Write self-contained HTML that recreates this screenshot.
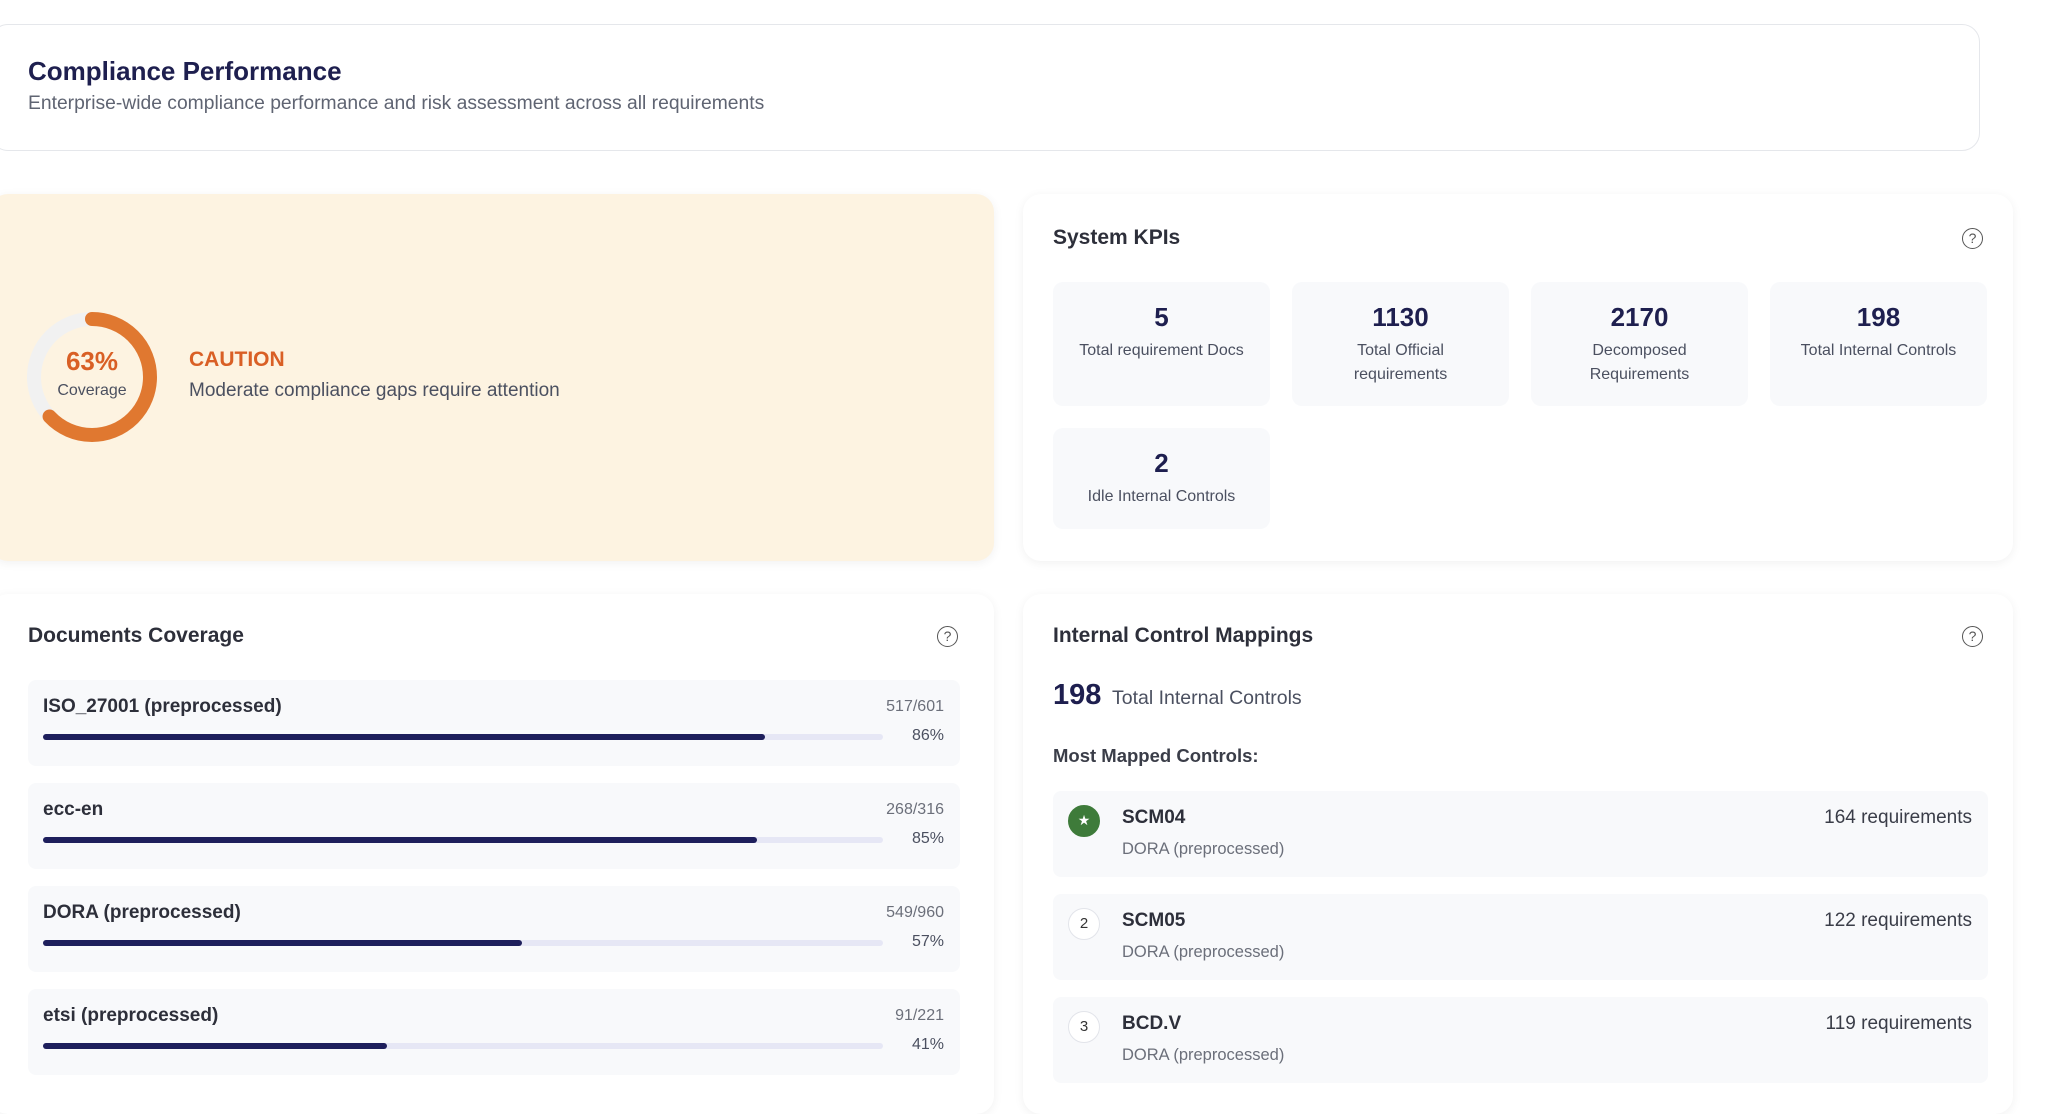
<!DOCTYPE html>
<html><head><meta charset="utf-8"><style>
*{box-sizing:border-box;margin:0;padding:0}
body{width:2048px;height:1091px;overflow:hidden;background:#fff;font-family:"Liberation Sans",sans-serif;position:relative}
.card{position:absolute;background:#fff;border-radius:18px;box-shadow:0 2px 10px rgba(0,0,0,0.06)}
.abs{position:absolute;white-space:nowrap}
.help{position:absolute;width:21px;height:21px;border:1.8px solid #555;border-radius:50%;font-size:14px;color:#555;text-align:center;line-height:18px}
.tile{position:absolute;width:217px;background:#f8f9fb;border-radius:10px;text-align:center}
.tile .n{font-size:26px;font-weight:bold;color:#1e1f4f;margin-top:20px}
.tile .l{font-size:16px;color:#4b5060;line-height:23.5px;margin-top:6px}
.doc{position:absolute;left:28px;width:932px;height:86px;background:#f8f9fb;border-radius:8px}
.doc .nm{position:absolute;left:15px;top:16px;font-size:19px;font-weight:bold;color:#2d2f3a}
.doc .ct{position:absolute;right:16px;top:18px;font-size:16px;color:#6b6f7a}
.doc .pc{position:absolute;right:16px;top:47px;font-size:16px;color:#4b5060}
.doc .tr{position:absolute;left:15px;top:54px;width:840px;height:6px;background:#e6e7f5;border-radius:3px}
.doc .fl{height:6px;background:#1e1f5c;border-radius:3px}
.ctl{position:absolute;left:1053px;width:935px;height:86px;background:#f8f9fb;border-radius:8px}
.ctl .c{position:absolute;left:15px;top:14px;width:32px;height:32px;border-radius:50%;border:1.5px solid #e2e4ea;background:#fff;text-align:center;line-height:29px;font-size:15px;color:#333}
.ctl .nm{position:absolute;left:69px;top:16px;font-size:19px;font-weight:bold;color:#2d2f3a}
.ctl .sb{position:absolute;left:69px;top:49px;font-size:16.5px;color:#6b6f7a}
.ctl .rq{position:absolute;right:16px;top:16px;font-size:19px;color:#3a3d48}
</style></head><body>

<div class="card" style="left:-10px;top:24px;width:1990px;height:127px;border:1px solid #e5e7eb;box-shadow:none"></div>
<div class="abs" style="left:28px;top:56px;font-size:26px;font-weight:bold;color:#1e1f4f">Compliance Performance</div>
<div class="abs" style="left:28px;top:93px;font-size:19.3px;color:#5f6472">Enterprise-wide compliance performance and risk assessment across all requirements</div>

<div class="card" style="left:-10px;top:194px;width:1004px;height:367px;background:#fdf3e1"></div>
<svg class="abs" style="left:26px;top:311px" width="132" height="132" viewBox="0 0 132 132">
<circle cx="66" cy="66" r="58" fill="none" stroke="#f1f1f1" stroke-width="14"/>
<circle cx="66" cy="66" r="58" fill="none" stroke="#e07830" stroke-width="14" stroke-linecap="round" stroke-dasharray="229.6 364.4" transform="rotate(-90 66 66)"/>
</svg>
<div class="abs" style="left:26px;top:346px;width:132px;text-align:center;font-size:26px;font-weight:bold;color:#d95f25">63%</div>
<div class="abs" style="left:26px;top:382px;width:132px;text-align:center;font-size:16px;color:#4b5060">Coverage</div>
<div class="abs" style="left:189px;top:348px;font-size:21px;font-weight:bold;color:#d95f25">CAUTION</div>
<div class="abs" style="left:189px;top:380px;font-size:19px;color:#4b5060">Moderate compliance gaps require attention</div>

<div class="card" style="left:1023px;top:194px;width:990px;height:367px"></div>
<div class="abs" style="left:1053px;top:226px;font-size:21px;font-weight:bold;color:#2d2f3a">System KPIs</div>
<div class="help" style="left:1962px;top:228px">?</div>
<div class="tile" style="left:1053px;top:282px;height:124px"><div class="n">5</div><div class="l">Total requirement Docs</div></div>
<div class="tile" style="left:1292px;top:282px;height:124px"><div class="n">1130</div><div class="l">Total Official<br>requirements</div></div>
<div class="tile" style="left:1531px;top:282px;height:124px"><div class="n">2170</div><div class="l">Decomposed<br>Requirements</div></div>
<div class="tile" style="left:1770px;top:282px;height:124px"><div class="n">198</div><div class="l">Total Internal Controls</div></div>
<div class="tile" style="left:1053px;top:428px;height:101px"><div class="n">2</div><div class="l">Idle Internal Controls</div></div>

<div class="card" style="left:-10px;top:594px;width:1004px;height:520px"></div>
<div class="abs" style="left:28px;top:624px;font-size:21px;font-weight:bold;color:#2d2f3a">Documents Coverage</div>
<div class="help" style="left:937px;top:626px">?</div>
<div class="doc" style="top:680px"><div class="nm">ISO_27001 (preprocessed)</div><div class="ct">517/601</div><div class="tr"><div class="fl" style="width:86%"></div></div><div class="pc">86%</div></div>
<div class="doc" style="top:783px"><div class="nm">ecc-en</div><div class="ct">268/316</div><div class="tr"><div class="fl" style="width:85%"></div></div><div class="pc">85%</div></div>
<div class="doc" style="top:886px"><div class="nm">DORA (preprocessed)</div><div class="ct">549/960</div><div class="tr"><div class="fl" style="width:57%"></div></div><div class="pc">57%</div></div>
<div class="doc" style="top:989px"><div class="nm">etsi (preprocessed)</div><div class="ct">91/221</div><div class="tr"><div class="fl" style="width:41%"></div></div><div class="pc">41%</div></div>

<div class="card" style="left:1023px;top:594px;width:990px;height:520px"></div>
<div class="abs" style="left:1053px;top:624px;font-size:21px;font-weight:bold;color:#2d2f3a">Internal Control Mappings</div>
<div class="help" style="left:1962px;top:626px">?</div>
<div class="abs" style="left:1053px;top:679px;font-size:29px;font-weight:bold;color:#1e1f4f">198</div>
<div class="abs" style="left:1112px;top:687px;font-size:19.5px;color:#4b5060">Total Internal Controls</div>
<div class="abs" style="left:1053px;top:745px;font-size:18.5px;font-weight:bold;color:#3a3d48">Most Mapped Controls:</div>
<div class="ctl" style="top:791px"><div class="c" style="background:#3e7b3a;border-color:#3e7b3a;color:#fff;font-size:14px">★</div><div class="nm">SCM04</div><div class="sb">DORA (preprocessed)</div><div class="rq">164 requirements</div></div>
<div class="ctl" style="top:894px"><div class="c">2</div><div class="nm">SCM05</div><div class="sb">DORA (preprocessed)</div><div class="rq">122 requirements</div></div>
<div class="ctl" style="top:997px"><div class="c">3</div><div class="nm">BCD.V</div><div class="sb">DORA (preprocessed)</div><div class="rq">119 requirements</div></div>
</body></html>
